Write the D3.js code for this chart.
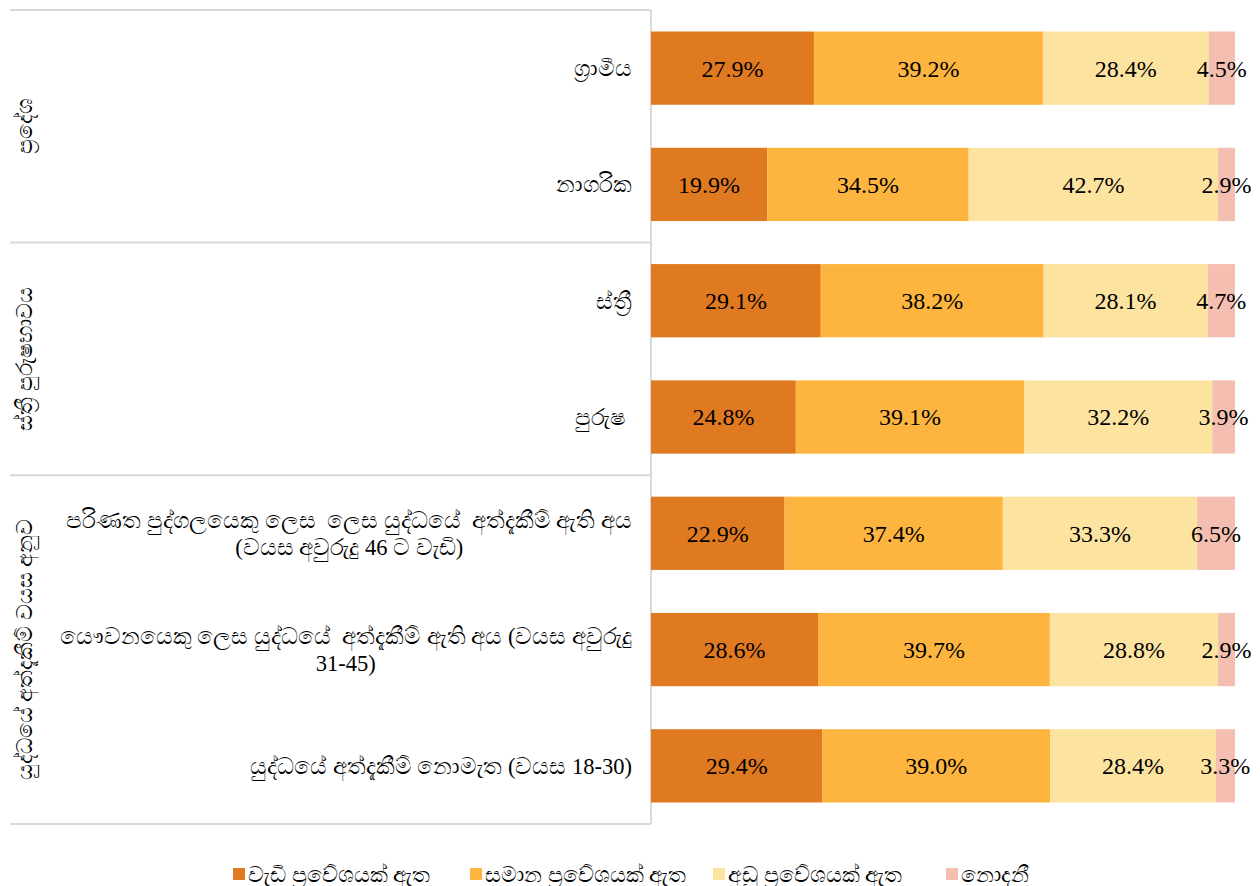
<!DOCTYPE html>
<html>
<head>
<meta charset="utf-8">
<script src="https://cdn.jsdelivr.net/npm/d3@7"></script>
<style>
  body { margin: 0; background: #fff; }
</style>
</head>
<body>
<div id="chart"></div>
<script>
var svgWidth = 1260;
var svgHeight = 886;
var fontFamily = "'Liberation Serif'";

// categories, top to bottom ("|" marks a line break)
var categories = [
  "ග්‍රාමීය",
  "නාගරික",
  "ස්ත්‍රී",
  "පුරුෂ ",
  "පරිණත පුද්ගලයෙකු ලෙස  ලෙස යුද්ධයේ  අත්දැකීම් ඇති අය|(වයස අවුරුදු 46 ට වැඩි)",
  "යෞවනයෙකු ලෙස යුද්ධයේ  අත්දැකීම් ඇති අය (වයස අවුරුදු|31-45)",
  "යුද්ධයේ අත්දැකීම් නොමැත (වයස 18-30)"
];

var groups = ["ප්‍රදේශ", "ස්ත්‍රී පුරුෂභාවය", "යුද්ධයේ අත්දැකීම් වයස අනුව"];
var groupSizes = [2, 2, 3];

var seriesNames = ["වැඩි ප්‍රවේශයක් ඇත", "සමාන ප්‍රවේශයක් ඇත", "අඩු ප්‍රවේශයක් ඇත", "නොදනී"];
var colors = ["#E07A20", "#FDB53F", "#FDE3A0", "#F4BFB1"];

var more = [27.9, 19.9, 29.1, 24.8, 22.9, 28.6, 29.4];
var same = [39.2, 34.5, 38.2, 39.1, 37.4, 39.7, 39.0];
var less = [28.4, 42.7, 28.1, 32.2, 33.3, 28.8, 28.4];
var dontKnow = [4.5, 2.9, 4.7, 3.9, 6.5, 2.9, 3.3];

var data = categories.map(function(c, i) {
  return { cat: c, s0: more[i], s1: same[i], s2: less[i], s3: dontKnow[i] };
});

var plot = { left: 651, right: 1235, top: 10, bottom: 824 };

var svg = d3.select("#chart").append("svg")
  .attr("width", svgWidth)
  .attr("height", svgHeight)
  .attr("font-family", fontFamily);

var x = d3.scaleLinear().domain([0, 1]).range([plot.left, plot.right]);
var y = d3.scaleBand()
  .domain(categories)
  .range([plot.top, plot.bottom])
  .paddingInner(0.37)
  .paddingOuter(0.185);

var stack = d3.stack()
  .keys(["s0", "s1", "s2", "s3"])
  .offset(d3.stackOffsetExpand);
var stacked = stack(data);

// table lines
var lineColor = "#d9d9d9";
var tbl = svg.append("g");
var bounds = [plot.top];
var acc = 0;
groupSizes.forEach(function(n) {
  acc += n;
  var last = categories[acc - 1];
  var yb = acc === categories.length ? plot.bottom : (y(last) + y.bandwidth() + y(categories[acc])) / 2;
  bounds.push(yb);
});
bounds.forEach(function(b) {
  tbl.append("line")
    .attr("x1", 10).attr("x2", plot.left)
    .attr("y1", b).attr("y2", b)
    .attr("stroke", lineColor).attr("stroke-width", 2);
});
tbl.append("line")
  .attr("x1", plot.left).attr("x2", plot.left)
  .attr("y1", plot.top).attr("y2", plot.bottom)
  .attr("stroke", lineColor).attr("stroke-width", 2);

// bars
var layers = svg.append("g").selectAll("g")
  .data(stacked)
  .enter()
  .append("g")
  .attr("fill", function(d, i) { return colors[i]; });

layers.selectAll("rect")
  .data(function(d) { return d; })
  .enter()
  .append("rect")
  .attr("x", function(d) { return x(d[0]); })
  .attr("width", function(d) { return x(d[1]) - x(d[0]); })
  .attr("y", function(d) { return y(d.data.cat); })
  .attr("height", y.bandwidth());

// value labels
layers.selectAll("text")
  .data(function(d) { var key = d.key; return d.map(function(p) { return { p: p, key: key }; }); })
  .enter()
  .append("text")
  .attr("x", function(d) { return (x(d.p[0]) + x(d.p[1])) / 2; })
  .attr("y", function(d) { return y(d.p.data.cat) + y.bandwidth() / 2; })
  .attr("dy", "0.35em")
  .attr("text-anchor", "middle")
  .attr("font-size", "24px")
  .attr("fill", "#000")
  .text(function(d) { return d.p.data[d.key].toFixed(1) + "%"; });

// category labels
var catLabels = svg.append("g");
categories.forEach(function(c) {
  var lines = c.split("|");
  var cy = y(c) + y.bandwidth() / 2;
  var g = catLabels.append("g");
  var texts = lines.map(function(l, i) {
    return g.append("text")
      .attr("y", cy + (i - (lines.length - 1) / 2) * 27)
      .attr("dy", "0.35em")
      .attr("font-size", "22.5px")
      .attr("fill", "#000")
      .style("white-space", "pre")
      .text(l);
  });
  var maxW = d3.max(texts, function(t) { return t.node().getComputedTextLength(); });
  var center = 632 - maxW / 2;
  texts.forEach(function(t) {
    t.attr("x", center).attr("text-anchor", "middle");
  });
});

// group labels (rotated)
groups.forEach(function(gname, i) {
  var cy = (bounds[i] + bounds[i + 1]) / 2;
  svg.append("text")
    .attr("transform", "translate(24," + cy + ") rotate(-90)")
    .attr("text-anchor", "middle")
    .attr("dy", "0.35em")
    .attr("font-size", "22px")
    .attr("fill", "#000")
    .text(gname);
});

// legend
var legendX = [233, 470, 713, 946];
var legend = svg.append("g");
seriesNames.forEach(function(s, i) {
  legend.append("rect")
    .attr("x", legendX[i]).attr("y", 868)
    .attr("width", 12).attr("height", 12)
    .attr("fill", colors[i]);
  legend.append("text")
    .attr("x", legendX[i] + 15).attr("y", 874)
    .attr("dy", "0.35em")
    .attr("font-size", "22px")
    .attr("fill", "#000")
    .text(s);
});
</script>
</body>
</html>
